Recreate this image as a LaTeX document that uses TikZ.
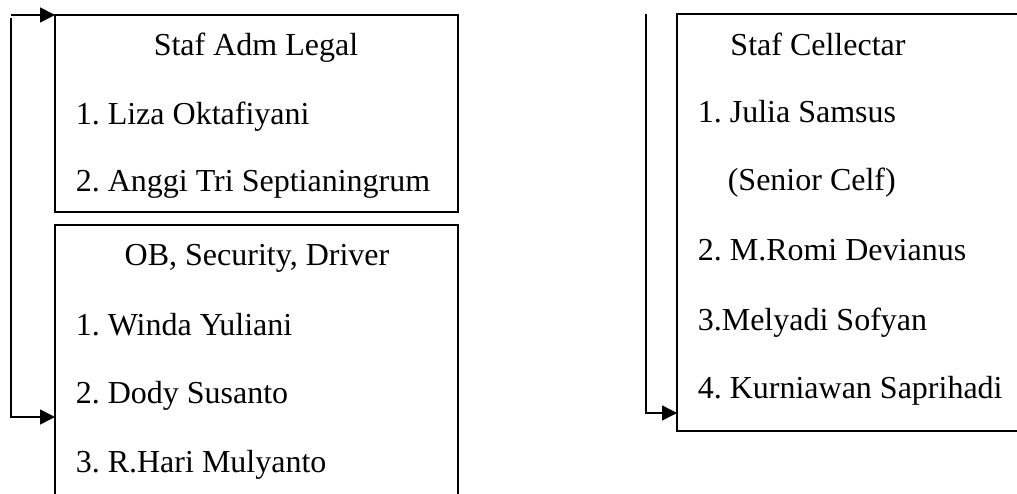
\documentclass[tikz,border=0pt]{standalone}
\usepackage{fontspec}
\setmainfont{Liberation Serif}
\usetikzlibrary{positioning,arrows.meta}
\frenchspacing

\begin{document}
\begin{tikzpicture}[x=1pt, y=-1pt, line width=1.6pt,
  font=\fontsize{32pt}{38pt}\selectfont,
  box/.style={draw, anchor=north west, inner sep=0pt, outer sep=0pt},
  txt/.style={anchor=base west, inner sep=0pt},
  head/.style={anchor=base, inner sep=0pt},
  arr/.style={-{Triangle[length=15pt, width=15pt]}}]
\useasboundingbox (0,0) rectangle (1017,494);
\clip (0,0) rectangle (1017,494);
% boxes
\node[box, minimum width=403pt, minimum height=197pt] (legal) at (55,15) {};
\node[box, minimum width=403pt, minimum height=300pt] (ob) at (55,225) {};
\node[box, minimum width=380pt, minimum height=417pt] (cel) at (677,14) {};
% left column
\node[head] (legalh) at (256,56) {Staf Adm Legal};
\node[txt] (liza) at (75,125) {1. Liza Oktafiyani};
\node[txt] (anggi) at (75,192) {2. Anggi Tri Septianingrum};
\node[head] (obh) at (257,266) {OB, Security, Driver};
\node[txt] (winda) at (75,335) {1. Winda Yuliani};
\node[txt] (dody) at (75,403) {2. Dody Susanto};
\node[txt] (hari) at (75,472) {3. R.Hari Mulyanto};
% right column
\node[head] (celh) at (818,56) {Staf Cellectar};
\node[txt] (julia) at (697,123) {1. Julia Samsus};
\node[txt] (senior) at (727,191) {(Senior Celf)};
\node[txt] (romi) at (697,261) {2. M.Romi Devianus};
\node[txt] (melyadi) at (697,330) {3.Melyadi Sofyan};
\node[txt] (kurn) at (697,398) {4. Kurniawan Saprihadi};
% connectors
\coordinate (ltop) at (11,15);
\coordinate (lt) at (11,18);
\coordinate (lb) at (11,417);
\coordinate (rt) at (646,14);
\coordinate (rb) at (646,413);
\draw[arr] (ltop) -- (ltop -| legal.west);
\draw[arr] (lt) -- (lb) -- (lb -| ob.west);
\draw[arr] (rt) -- (rb) -- (rb -| cel.west);
\end{tikzpicture}
\end{document}
